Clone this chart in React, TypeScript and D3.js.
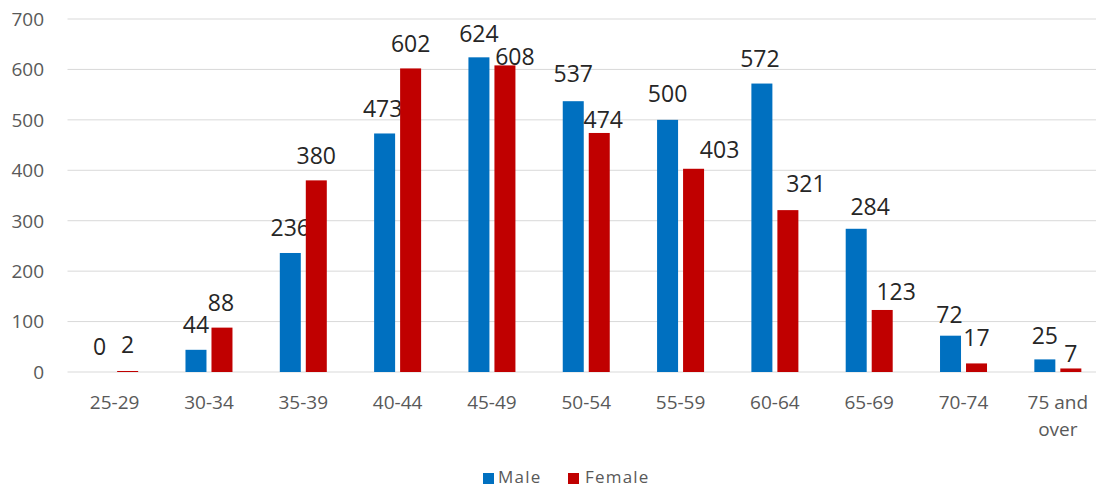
import React from "react";
import * as d3 from "d3";

const categories = ["25-29", "30-34", "35-39", "40-44", "45-49", "50-54", "55-59", "60-64", "65-69", "70-74", "75 and over"];
const maleValues = [0, 44, 236, 473, 624, 537, 500, 572, 284, 72, 25];
const femaleValues = [2, 88, 380, 602, 608, 474, 403, 321, 123, 17, 7];
const yTicks = [0, 100, 200, 300, 400, 500, 600, 700];
const seriesNames = ["Male", "Female"];
const seriesColors = ["#0070C0", "#C00000"];

// manual data-label nudges (dx, dy) as placed in the reference
const maleLabelNudge: [number, number][] = [[-2, 0], [0, 0], [0, 0], [-2, 0], [0, 1], [0, -2], [0, -1], [-2, 0], [14, 3], [-1, 4], [0, 1]];
const femaleLabelNudge: [number, number][] = [[0, -1], [-1, 0], [0, 0], [0, 0], [10, 16], [4, 12], [26, 6], [18, -1], [14, 7], [0, -1], [0, 10]];

const W = 1096;
const H = 489;
const left = 67.5;
const right = 1105;
const top = 19;
const bottom = 372;

export default function App() {
  const x = d3.scaleBand<string>().domain(categories).range([left, right]).paddingInner(0).paddingOuter(0);
  const y = d3.scaleLinear().domain([0, 700]).range([bottom, top]);
  const barW = 21;
  const gap = 5;
  const series = [maleValues, femaleValues];
  const nudges = [maleLabelNudge, femaleLabelNudge];
  const font = "'Open Sans', 'Liberation Sans', sans-serif";

  return (
    <svg width={W} height={H} style={{ position: "absolute", left: 0, top: 0, background: "#fff" }} fontFamily={font}>
      {yTicks.map((t) => (
        <g key={t}>
          <line x1={left} x2={W} y1={y(t)} y2={y(t)} stroke="#d9d9d9" strokeWidth={1} />
          <text x={44} y={y(t)} dy="0.36em" textAnchor="end" fontSize={19} fill="#595959">{t}</text>
        </g>
      ))}
      {series.map((vals, si) =>
        vals.map((v, i) => {
          const cx = x(categories[i])! + x.bandwidth() / 2;
          const bx = si === 0 ? cx - gap / 2 - barW : cx + gap / 2;
          const [ndx, ndy] = nudges[si][i];
          return (
            <g key={`${si}-${i}`}>
              <rect x={bx} y={y(v)} width={barW} height={bottom - y(v)} fill={seriesColors[si]} />
              <text x={bx + barW / 2 + ndx} y={y(v) - 25 + ndy} dy="0.36em" textAnchor="middle" fontSize={23} fill="#262626">{v}</text>
            </g>
          );
        })
      )}
      {categories.map((c) => {
        const cx = x(c)! + x.bandwidth() / 2;
        const parts = c === "75 and over" ? ["75 and", "over"] : [c];
        return (
          <text key={c} x={cx} y={409} textAnchor="middle" fontSize={19} fill="#595959">
            {parts.map((p, k) => (
              <tspan key={k} x={cx} dy={k === 0 ? 0 : 27}>{p}</tspan>
            ))}
          </text>
        );
      })}
      <g>
        <rect x={483} y={473} width={11} height={11} fill={seriesColors[0]} />
        <text x={498} y={483} fontSize={17} letterSpacing={1.2} fill="#595959">{seriesNames[0]}</text>
        <rect x={568} y={473} width={11} height={11} fill={seriesColors[1]} />
        <text x={585} y={483} fontSize={17} letterSpacing={1.2} fill="#595959">{seriesNames[1]}</text>
      </g>
    </svg>
  );
}
